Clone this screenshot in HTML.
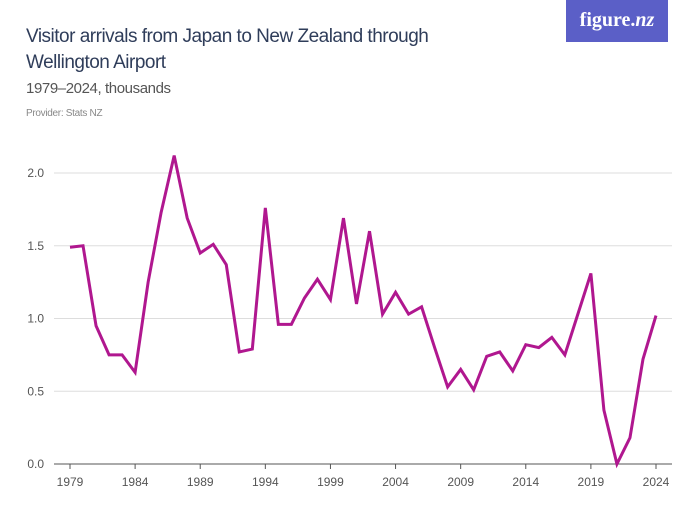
<!DOCTYPE html>
<html><head><meta charset="utf-8"><style>
body{margin:0;width:700px;height:525px;background:#fff;font-family:"Liberation Sans",sans-serif;position:relative;overflow:hidden}
.t{position:absolute;left:26px;top:24px;font-size:19px;line-height:26px;color:#2f3d5a;letter-spacing:-0.5px}
.s{position:absolute;left:26px;top:80px;font-size:15px;color:#555;letter-spacing:-0.4px}
.p{position:absolute;left:26px;top:108px;font-size:10px;color:#888;letter-spacing:-0.3px}
.logo{position:absolute;left:566px;top:0;width:102px;height:42px;background:#5b5fc7;color:#fff;font-family:"Liberation Serif",serif;font-weight:bold;font-size:20px;text-align:center;line-height:40px}
</style></head><body>
<div class="t">Visitor arrivals from Japan to New Zealand through<br>Wellington Airport</div>
<div class="s">1979–2024, thousands</div>
<div class="p">Provider: Stats NZ</div>
<div class="logo">figure.<i>nz</i></div>
<svg id="c" width="700" height="525" style="position:absolute;left:0;top:0" font-family="Liberation Sans, sans-serif"></svg>
<script>
var d=[1.49,1.50,0.95,0.75,0.75,0.63,1.25,1.73,2.12,1.69,1.45,1.51,1.37,0.77,0.79,1.76,0.96,0.96,1.14,1.27,1.13,1.69,1.10,1.60,1.03,1.18,1.03,1.08,0.80,0.53,0.65,0.51,0.74,0.77,0.64,0.82,0.80,0.87,0.75,1.03,1.31,0.37,0.00,0.18,0.72,1.02];
var s='';
function Y(v){return 464-v*145.5}
function X(i){return 70+i*586/45}
[0,0.5,1,1.5,2].forEach(function(v){var y=Y(v);
s+='<line x1="54" x2="672" y1="'+y+'" y2="'+y+'" stroke="'+(v==0?'#555':'#ddd')+'" stroke-width="1"/>';
s+='<text x="44" y="'+(y+4)+'" font-size="12" fill="#555" text-anchor="end">'+v.toFixed(1)+'</text>';});
for(var yr=1979;yr<=2024;yr+=5){var x=X(yr-1979);
s+='<line x1="'+x+'" x2="'+x+'" y1="464" y2="469" stroke="#555"/>';
s+='<text x="'+x+'" y="486" font-size="12" fill="#555" text-anchor="middle">'+yr+'</text>';}
s+='<polyline fill="none" stroke="#b0178f" stroke-width="3" stroke-linejoin="miter" points="'+d.map(function(v,i){return X(i)+','+Y(v)}).join(' ')+'"/>';
document.getElementById('c').innerHTML=s;
</script>
</body></html>
